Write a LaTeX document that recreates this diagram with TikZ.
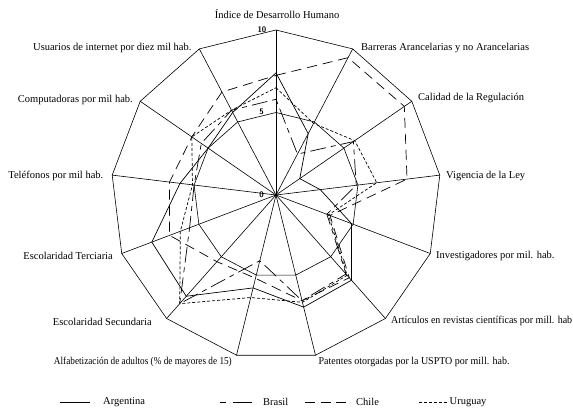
\documentclass[tikz,border=0pt]{standalone}
\usepackage{fontspec}
\usepackage{graphicx}
\setmainfont{Liberation Serif}
% one closed line through the 13 spokes, values on a 0-10 scale
\newcommand{\radarpath}[3]{%
  \begin{scope}[shift={(O)}]
    \foreach \v [count=\k from 0] in {#3}
      \coordinate (#1\k) at ({90-\k*360/13}:{\v*16.5});
  \end{scope}
  \draw[#2] (#10) \foreach \k in {1,...,12}{-- (#1\k)} -- cycle;
}
% label narrowed horizontally only
\newcommand{\narrow}[2]{\scalebox{#1}[1]{#2}}
\begin{document}
\begin{tikzpicture}[x=1pt,y=1pt,
  gridline/.style={line width=0.6pt,black},
  arg/.style={line width=0.7pt},
  bra/.style={line width=0.7pt,dash pattern=on 5pt off 5pt on 16pt off 5pt},
  chi/.style={line width=0.7pt,dash pattern=on 10pt off 6pt},
  uru/.style={line width=0.7pt,dash pattern=on 3pt off 2pt},
  axlabel/.style={font=\fontsize{10.5}{12}\selectfont,inner sep=0pt},
  ticklabel/.style={font=\fontsize{8}{9}\selectfont\sffamily\bfseries,inner sep=0pt,anchor=east},
  legtext/.style={font=\fontsize{10.5}{12}\selectfont,inner sep=0pt,anchor=west}]
\useasboundingbox (0,0) rectangle (573,407);
\coordinate (O) at (276,212);
\begin{scope}[shift={(O)}]
  \foreach \k in {0,...,12} {
    \coordinate (v\k) at ({90-\k*360/13}:165);
    \coordinate (h\k) at ({90-\k*360/13}:82.5);
  }
\end{scope}
% grid: outer ring (10), middle ring (5) and spokes
\draw[gridline] (v0) \foreach \k in {1,...,12}{-- (v\k)} -- cycle;
\draw[gridline] (h0) \foreach \k in {1,...,12}{-- (h\k)} -- cycle;
\foreach \k in {0,...,12} \draw[gridline] (O) -- (v\k);
\fill (O) circle (1.4);

% series
\radarpath{arg}{arg}{7.4,4.2,1.75,2.7,4.9,6.9,7.0,5.8,8.2,8.05,5.86,5.0,5.65}
\radarpath{bra}{bra}{5.8,2.8,5.7,4.9,3.3,6.4,6.6,4.1,8.8,5.6,5.0,5.5,5.8}
\radarpath{chi}{chi}{7.25,9.4,9.45,8.0,3.5,6.7,6.6,5.2,5.4,6.9,6.5,6.2,7.05}
\radarpath{uru}{uru}{6.5,4.9,5.8,6.15,3.4,6.5,6.7,6.4,8.8,6.2,5.1,6.2,5.8}

% scale
\node[ticklabel] (t10) at (266.5,377.5) {10};
\node[ticklabel] (t5) at (264,295.5) {5};
\node[ticklabel] (t0) at (264,212) {0};

% spoke labels
\node[axlabel,anchor=base] (l0) at (277,388.5) {Índice de Desarrollo Humano};
\node[axlabel,anchor=base west] (l1) at (361,356.5) {Barreras Arancelarias y no Arancelarias};
\node[axlabel,anchor=base west] (l2) at (418,306) {Calidad de la Regulación};
\node[axlabel,anchor=base west] (l3) at (446,228.5) {Vigencia de la Ley};
\node[axlabel,anchor=base west] (l4) at (436,148.5) {Investigadores por mil. hab.};
\node[axlabel,anchor=base west] (l5) at (391,83.5) {\narrow{0.955}{Artículos en revistas científicas por mill. hab}};
\node[axlabel,anchor=base west] (l6) at (318.5,42) {\narrow{0.95}{Patentes otorgadas por la USPTO por mill. hab.}};
\node[axlabel,anchor=base east] (l7) at (232,42) {\narrow{0.88}{Alfabetización de adultos (\% de mayores de 15)}};
\node[axlabel,anchor=base east] (l8) at (152,81.5) {Escolaridad Secundaria};
\node[axlabel,anchor=base east] (l9) at (113,147) {Escolaridad Terciaria};
\node[axlabel,anchor=base east] (l10) at (103.5,228.5) {Teléfonos por mil hab.};
\node[axlabel,anchor=base east] (l11) at (133,304.5) {Computadoras por mil hab.};
\node[axlabel,anchor=base east] (l12) at (191.7,356.5) {Usuarios de internet por diez mil hab.};

% legend
\coordinate (ga0) at (60,5);  \coordinate (ga1) at (90,5);
\coordinate (gb0) at (220,5); \coordinate (gb1) at (252,5);
\coordinate (gc0) at (305,5); \coordinate (gc1) at (346,5);
\coordinate (gu0) at (419,5); \coordinate (gu1) at (448,5);
\draw[arg] (ga0) -- (ga1);
\draw[line width=0.7pt,dash pattern=on 6pt off 7pt on 19pt off 7pt] (gb0) -- (gb1);
\draw[line width=0.7pt,dash pattern=on 10pt off 5.5pt] (gc0) -- (gc1);
\draw[uru] (gu0) -- (gu1);
\node[legtext] (ta) at (103,5) {Argentina};
\node[legtext] (tb) at (263,5) {Brasil};
\node[legtext] (tc) at (356,5) {Chile};
\node[legtext] (tu) at (449.5,5) {Uruguay};
\end{tikzpicture}
\end{document}
